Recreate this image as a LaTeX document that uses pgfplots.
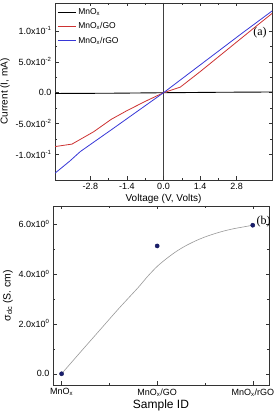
\documentclass[border=0pt]{standalone}
\usepackage{fontspec}
\setmainfont{Liberation Sans}
\newfontfamily\seriffont{Liberation Serif}
\usepackage{pgfplots}
\pgfplotsset{compat=1.18}
\definecolor{cred}{RGB}{205,50,50}
\definecolor{cblue}{RGB}{55,55,215}
\definecolor{cnavy}{RGB}{25,30,110}
\begin{document}
\begin{tikzpicture}[x=1pt,y=1pt]
\path[use as bounding box] (0,0) rectangle (277,417);
\pgfplotsset{every axis/.append style={
  scale only axis, tick align=inside,
  major tick length=3.5pt, minor tick length=2pt,
  ticklabel style={font=\fontsize{9}{10}\selectfont},
  axis line style={black!80, line width=0.6pt},
  every tick/.style={black!80, line width=0.5pt},
}}
\begin{axis}[
  at={(55pt,237pt)}, anchor=south west, width=217pt, height=177pt,
  xmin=-4.15, xmax=4.15, ymin=-0.141, ymax=0.145,
  xtick={-2.8,-1.4,0,1.4,2.8}, xticklabels={-2.8,-1.4,0.0,1.4,2.8},
  minor x tick num=1,
  ytick={-0.1,-0.05,0,0.05,0.1},
  yticklabels={-1.0x10\textsuperscript{-1},-5.0x10\textsuperscript{-2},0.0,5.0x10\textsuperscript{-2},1.0x10\textsuperscript{-1}},
  minor y tick num=1,
  extra x ticks={0}, extra x tick labels={},
  extra x tick style={grid=major, major grid style={black!75, line width=0.6pt}},
  xlabel={Voltage (V, Volts)}, ylabel={Current (I, mA)},
  label style={font=\fontsize{10}{11}\selectfont},
  xlabel style={yshift=3pt}, ylabel style={yshift=-1pt},
  legend style={draw=none, fill=none, at={(0.005,0.985)}, anchor=north west,
    font=\fontsize{8.5}{9}\selectfont, row sep=2.5pt, inner sep=1pt,
    legend cell align=left},
  legend image code/.code={\draw[#1, line width=1pt] (0pt,0pt) -- (18pt,0pt);},
]
\addplot[black, line width=0.9pt] coordinates {(-4.15,-0.0012) (-2,-0.0008) (0,0) (2,0.0007) (4.15,0.0012)};
\addlegendentry{MnO\textsubscript{x}}
\addplot[cred, line width=0.8pt] coordinates {(-4.15,-0.087) (-3.5,-0.083) (-2.67,-0.063) (-2.0,-0.043) (-1.4,-0.029) (-0.7,-0.014) (0,0) (0.64,0.009) (1.4,0.034) (2.1,0.058) (2.8,0.082) (3.5,0.106) (4.15,0.128)};
\addlegendentry{MnO\textsubscript{x}/GO}
\addplot[cblue, line width=0.8pt] coordinates {(-4.15,-0.130) (-3.6,-0.111) (-3.18,-0.095) (-2,-0.060) (-1,-0.030) (0,0) (1,0.032) (2,0.064) (3,0.096) (4.15,0.132)};
\addlegendentry{MnO\textsubscript{x}/rGO}
\node[font=\seriffont\fontsize{12}{12}\selectfont] at (rel axis cs:0.945,0.83) {(a)};
\end{axis}
\begin{axis}[
  at={(53pt,32pt)}, anchor=south west, width=216pt, height=179pt,
  xmin=-0.09, xmax=2.17, ymin=-0.45, ymax=6.72,
  xtick={0,1,2}, xticklabels={MnO\textsubscript{x},MnO\textsubscript{x}/GO,MnO\textsubscript{x}/rGO},
  minor x tick num=1,
  ytick={0,2,4,6},
  yticklabels={0.0,2.0x10\textsuperscript{0},4.0x10\textsuperscript{0},6.0x10\textsuperscript{0}},
  minor y tick num=1,
  xlabel={Sample ID}, ylabel={σ\textsubscript{dc} (S. cm)},
  xlabel style={font=\fontsize{12}{12}\selectfont, yshift=3pt},
  ylabel style={font=\fontsize{10.5}{11}\selectfont, yshift=-1pt},
]
\addplot[gray!80, line width=0.6pt, smooth, tension=0.5] coordinates {(0,0) (0.2,0.88) (0.4,1.75) (0.6,2.62) (0.8,3.45) (0.9,3.9) (1.0,4.3) (1.1,4.62) (1.2,4.9) (1.3,5.13) (1.4,5.32) (1.5,5.48) (1.6,5.61) (1.7,5.72) (1.8,5.81) (1.9,5.88) (2.0,5.95)};
\addplot[only marks, mark=*, mark size=2.1pt, mark options={fill=cnavy, draw=cnavy!80!black}] coordinates {(0,0) (1,5.12) (2,5.95)};
\node[font=\seriffont\fontsize{12}{12}\selectfont] at (rel axis cs:0.975,0.915) {(b)};
\end{axis}
\end{tikzpicture}
\end{document}
